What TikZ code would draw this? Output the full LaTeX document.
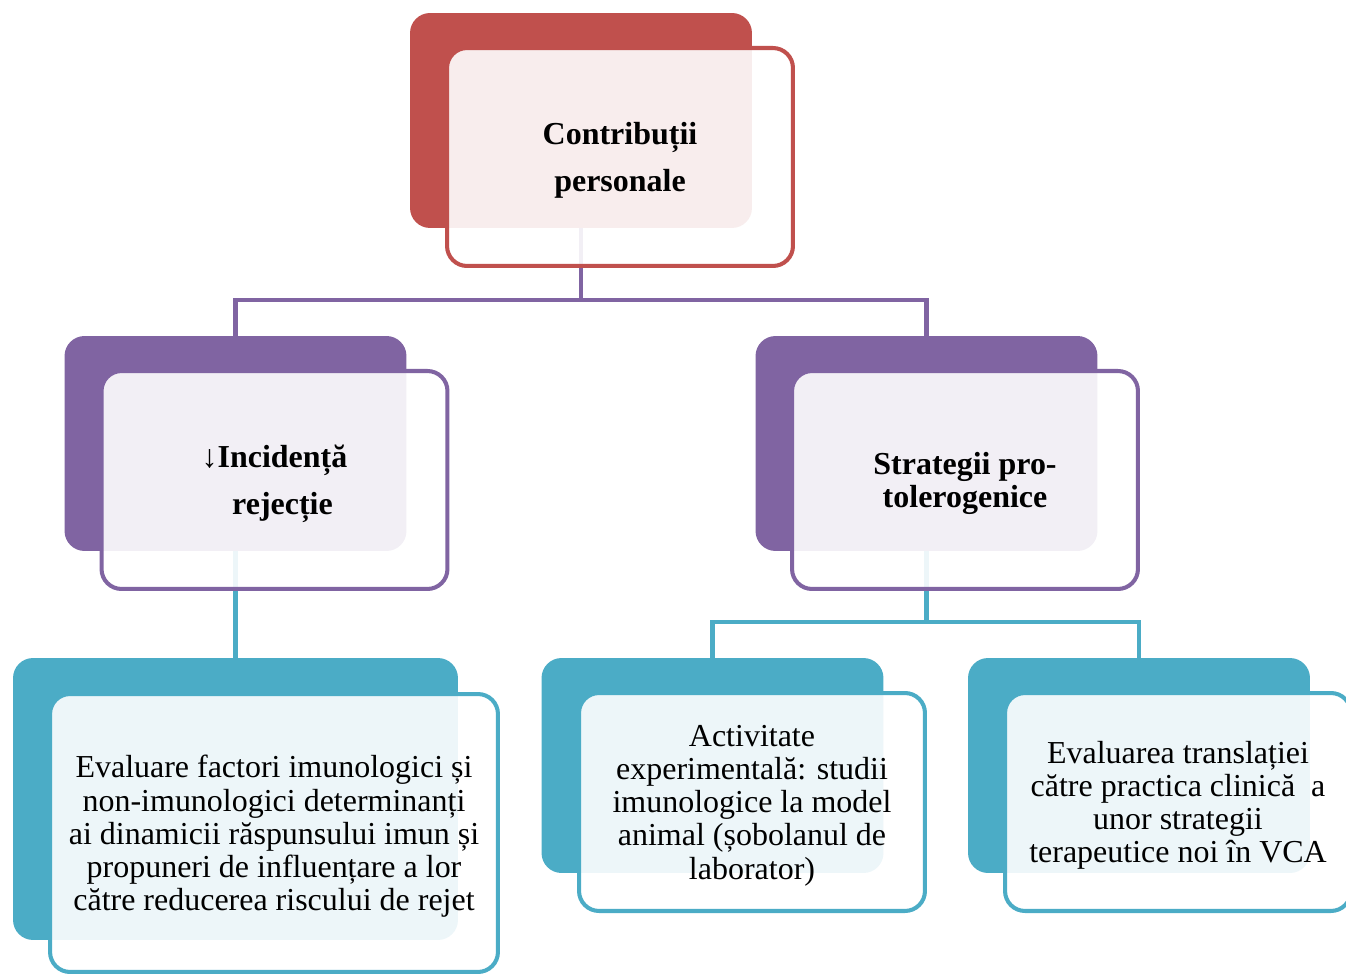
\documentclass[tikz,border=0pt]{standalone}
\usepackage{fontspec}
\setmainfont{Liberation Serif}
\usetikzlibrary{backgrounds}
\definecolor{redbox}{HTML}{C0504D}
\definecolor{purplebox}{HTML}{8064A2}
\definecolor{tealbox}{HTML}{4BACC6}
\tikzset{
  back/.style={fill=#1, rounded corners=0.4cm, minimum width=6.84cm, minimum height=4.3cm, inner sep=0pt},
  front/.style={draw=#1, line width=2.3pt, fill=white, fill opacity=0.9, text opacity=1, rounded corners=0.4cm,
    minimum width=6.92cm, minimum height=4.36cm, align=center, inner sep=0pt, text depth=-0.18cm},
  link/.style={draw=#1, line width=2.3pt},
  boldtext/.style={font=\fontsize{18.2}{26.6}\selectfont\bfseries},
  plaintext/.style={font=\fontsize{18.2}{18.9}\selectfont},
}
\begin{document}
\begin{tikzpicture}[x=0.02cm,y=-0.02cm]
    \useasboundingbox (0,0) rectangle (1346,976);
    \node[back=redbox] (contribB) at (581,120.5) {};
    \node[front=redbox, boldtext] (contribF) at (620,157) {Contribuții\\personale};
    \node[back=purplebox] (incidB) at (235.5,443.5) {};
    \node[front=purplebox, boldtext] (incidF) at (274.5,480) {↓Incidență\\\ \ rejecție};
    \node[back=purplebox] (stratB) at (926.5,443.5) {};
    \node[front=purplebox, font=\fontsize{18.2}{18.9}\selectfont\bfseries] (stratF) at (965,480) {Strategii pro-\\tolerogenice};
    \node[back=tealbox, minimum width=8.9cm, minimum height=5.64cm] (evalB) at (235.5,799) {};
    \node[front=tealbox, plaintext, minimum width=8.96cm, minimum height=5.56cm] (evalF) at (274,833)
    {Evaluare factori imunologici și\\non-imunologici determinanți\\ai dinamicii răspunsului imun și\\propuneri de influențare a lor\\către reducerea riscului de rejet};
    \node[back=tealbox] (expB) at (712.5,765.5) {};
    \node[front=tealbox, plaintext] (expF) at (752,802)
    {Activitate\\experimentală: studii\\imunologice la model\\animal (șobolanul de\\laborator)};
    \node[back=tealbox] (translB) at (1139,765.5) {};
    \node[front=tealbox, plaintext] (translF) at (1178,802)
    {Evaluarea translației\\către practica clinică~ a\\unor strategii\\terapeutice noi în VCA};
    \begin{scope}[on background layer]
    \coordinate (j1) at (581,300);
    \coordinate (j2) at (926.5,622);
    \draw[link=purplebox] (contribB.center) -- (j1);
    \draw[link=purplebox] (incidB.center) |- (j1) -| (stratB.center);
    \draw[link=tealbox] (incidB.center) -- (evalB.center);
    \draw[link=tealbox] (stratB.center) -- (j2);
    \draw[link=tealbox] (expB.center) |- (j2) -| (translB.center);
    \end{scope}
\end{tikzpicture}
\end{document}
